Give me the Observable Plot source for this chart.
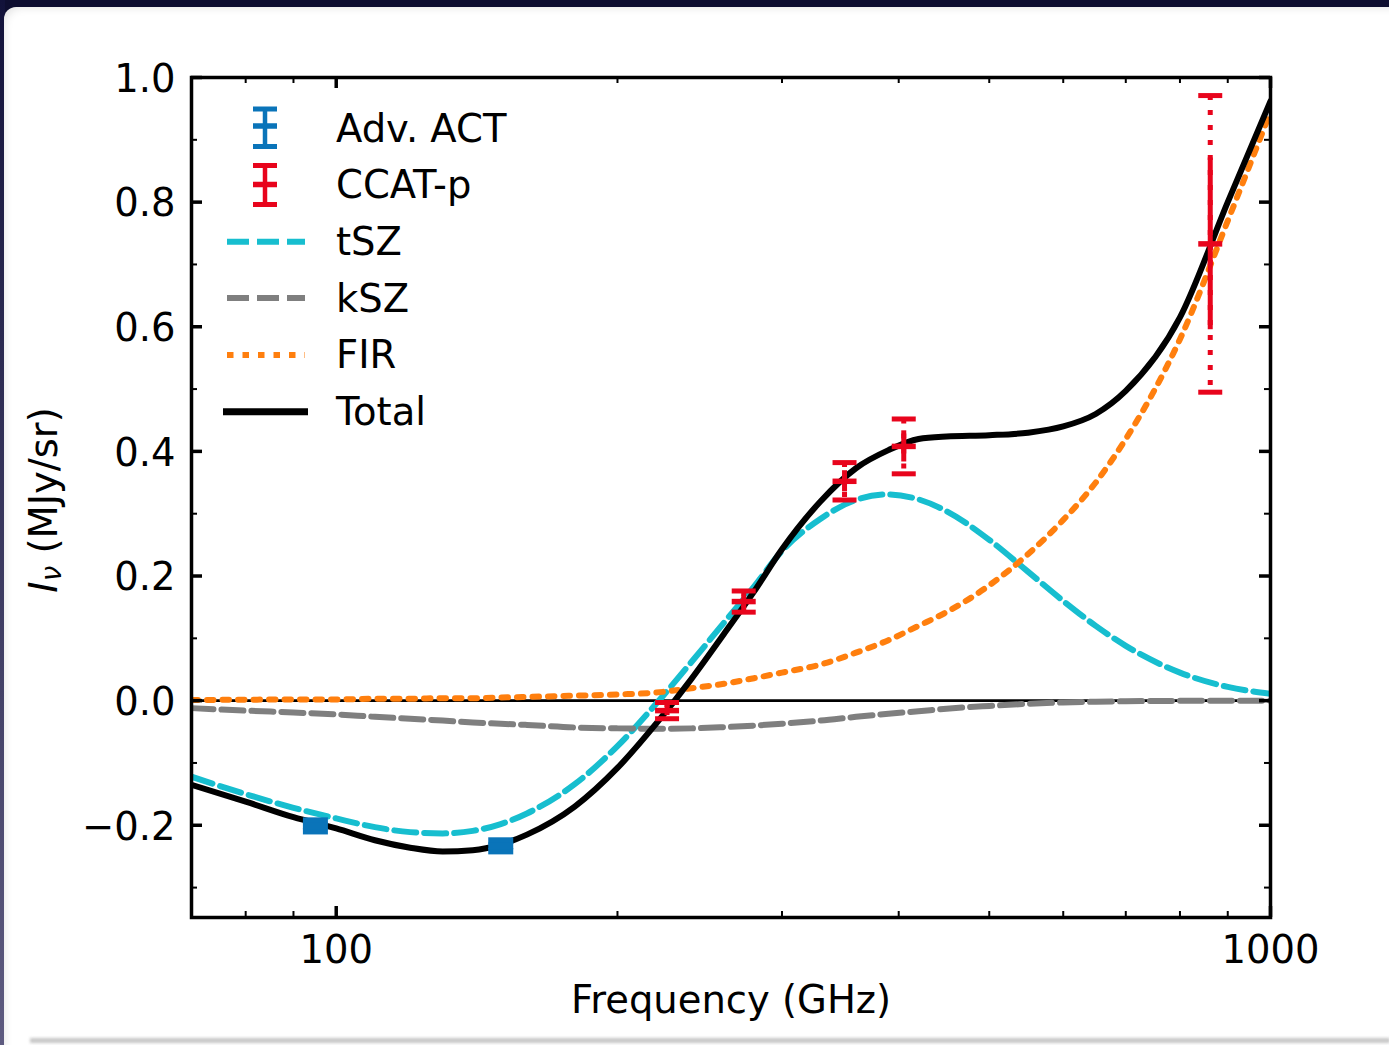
<!DOCTYPE html>
<html><head><meta charset="utf-8">
<script src="https://cdn.jsdelivr.net/npm/d3@7"></script>
<script src="https://cdn.jsdelivr.net/npm/@observablehq/plot@0.6"></script>
<style>
html,body{margin:0;padding:0;background:#0e0e30;overflow:hidden}
#page{position:relative;width:1389px;height:1045px;overflow:hidden;background:#0e0e30}
#leftband{position:absolute;left:0;top:0;width:5px;height:1045px;background:linear-gradient(#12123a,#5e5b80)}
#card{position:absolute;left:4px;top:7px;width:1400px;height:1050px;background:#fff;border-radius:12px 0 0 0;box-shadow:inset 6px 6px 10px -6px rgba(0,0,0,0.12)}
#smudge{position:absolute;left:30px;top:1038px;width:1360px;height:5px;background:#9a9a9a;filter:blur(1.5px);opacity:.55}
#chart,#overlay{position:absolute;left:0;top:0}
</style></head>
<body><div id="page"><div id="leftband"></div><div id="card"></div><div id="smudge"></div><div id="chart"></div><svg id="overlay" width="1389" height="1045"></svg></div>
<script>
// ---- data ----
const freq  = [70,80,90,100,110,120,130,140,150,160,180,200,220,240,260,280,300,330,360,390,420,450,500,550,600,650,700,800,900,1000];
const tSZ   = [-0.122,-0.150,-0.172,-0.189,-0.203,-0.211,-0.213,-0.209,-0.198,-0.181,-0.134,-0.073,-0.005,0.062,0.125,0.183,0.240,0.292,0.322,0.331,0.323,0.304,0.258,0.207,0.160,0.120,0.088,0.045,0.022,0.011];
const kSZ   = [-0.012,-0.016,-0.019,-0.022,-0.026,-0.029,-0.032,-0.035,-0.037,-0.039,-0.043,-0.0445,-0.045,-0.0445,-0.0425,-0.040,-0.037,-0.032,-0.026,-0.021,-0.017,-0.013,-0.0085,-0.005,-0.003,-0.0017,-0.001,-0.0003,-0.0001,0.0];
const FIR   = [0.001,0.0015,0.002,0.002,0.003,0.003,0.004,0.004,0.005,0.006,0.008,0.010,0.013,0.020,0.027,0.036,0.045,0.058,0.077,0.097,0.120,0.142,0.185,0.235,0.290,0.350,0.420,0.580,0.770,0.945];
const total = [-0.135,-0.162,-0.187,-0.205,-0.224,-0.236,-0.242,-0.240,-0.231,-0.215,-0.170,-0.108,-0.037,0.035,0.107,0.175,0.243,0.320,0.373,0.402,0.420,0.424,0.426,0.430,0.440,0.460,0.497,0.615,0.800,0.962];

const actFreq = [95,150];
const actVal  = [-0.201,-0.233];
const actErr  = [0.0085,0.0085];

const ccatFreq     = [226,273,350,405,862];
const ccatVal      = [-0.016,0.159,0.352,0.408,0.733];
const ccatErrOuter = [0.013,0.017,0.030,0.044,0.238];
const ccatErrInner = [0.008,0.010,0.017,0.025,0.138];

const xMajor = [100,1000];
const xMajorLabels = ["100","1000"];
const xMinor = [80,90,200,300,400,500,600,700,800,900];
const yMajor = [-0.2,0,0.2,0.4,0.6,0.8,1.0];
const yMajorLabels = ["\u22120.2","0.0","0.2","0.4","0.6","0.8","1.0"];
const yMinor = [-0.3,-0.1,0.1,0.3,0.5,0.7,0.9];

const legendLabels = ["Adv. ACT","CCAT-p","tSZ","kSZ","FIR","Total"];
const xLabel = "Frequency (GHz)";

// ---- styles ----
const FONT = "DejaVu Sans";
const FS = 38.5;
const C_TSZ = "#17becf", C_KSZ = "#7f7f7f", C_FIR = "#ff7f0e", C_TOT = "#000000";
const C_ACT = "#0a74b9", C_CCAT = "#e8041c";
const LW = 6;

const W = 1389, H = 1045, ML = 191, MR = 119, MT = 77, MB = 128;
const FW = W - ML - MR, FH = H - MT - MB;

const series = (arr) => freq.map((f, i) => ({f, v: arr[i]}));
const act = actFreq.map((f, i) => ({f, v: actVal[i], eo: actErr[i], ei: actErr[i]}));
const ccat = ccatFreq.map((f, i) => ({f, v: ccatVal[i], eo: ccatErrOuter[i], ei: ccatErrInner[i]}));

const capSym = (w, h) => ({draw(ctx) { ctx.rect(-w / 2, -h / 2, w, h); }});

function errorMarks(data, color, dotted, capH, midH, capW) {
  const cap = capSym(capW, capH), mid = capSym(capW, midH);
  const m = [];
  if (dotted) {
    m.push(Plot.ruleX(data, {x: "f", y1: d => d.v + d.eo, y2: d => d.v - d.eo, stroke: color, strokeWidth: 5, strokeDasharray: "5,10"}));
    m.push(Plot.ruleX(data, {x: "f", y1: d => d.v - d.ei, y2: d => d.v + d.ei, stroke: color, strokeWidth: 5}));
  } else {
    m.push(Plot.ruleX(data, {x: "f", y1: d => d.v - d.eo, y2: d => d.v + d.eo, stroke: color, strokeWidth: 5}));
  }
  m.push(Plot.dot(data, {x: "f", y: d => d.v + d.eo, symbol: cap, fill: color, stroke: "none"}));
  m.push(Plot.dot(data, {x: "f", y: d => d.v - d.eo, symbol: cap, fill: color, stroke: "none"}));
  m.push(Plot.dot(data, {x: "f", y: "v", symbol: mid, fill: color, stroke: "none"}));
  return m;
}

const majL = 11, minL = 6, majW = 3.5, minW = 2;

const chart = Plot.plot({
  width: W, height: H,
  marginLeft: ML, marginRight: MR, marginTop: MT, marginBottom: MB,
  x: {type: "log", domain: [70, 1000], axis: null},
  y: {domain: [-0.348, 1.0], axis: null},
  style: {background: "transparent", fontFamily: FONT, overflow: "visible", color: "black"},
  marks: [
    Plot.ruleY([0], {stroke: "black", strokeWidth: 2.8}),
    Plot.line(series(tSZ), {x: "f", y: "v", stroke: C_TSZ, strokeWidth: LW, strokeDasharray: "22,8", curve: "monotone-x", clip: true}),
    Plot.line(series(kSZ), {x: "f", y: "v", stroke: C_KSZ, strokeWidth: LW, strokeDasharray: "22,8", curve: "monotone-x", clip: true}),
    Plot.line(series(FIR), {x: "f", y: "v", stroke: C_FIR, strokeWidth: LW, strokeDasharray: "6.5,9", curve: "monotone-x", clip: true}),
    Plot.line(series(total), {x: "f", y: "v", stroke: C_TOT, strokeWidth: LW, curve: "monotone-x", clip: true}),
    ...errorMarks(act, C_ACT, false, 6.5, 7, 25),
    ...errorMarks(ccat, C_CCAT, true, 5, 5.5, 24),
    // inward ticks, all four sides
    Plot.ruleX(xMajor, {x: d => d, insetTop: FH - majL, stroke: "black", strokeWidth: majW}),
    Plot.ruleX(xMajor, {x: d => d, insetBottom: FH - majL, stroke: "black", strokeWidth: majW}),
    Plot.ruleX(xMinor, {x: d => d, insetTop: FH - minL, stroke: "black", strokeWidth: minW}),
    Plot.ruleX(xMinor, {x: d => d, insetBottom: FH - minL, stroke: "black", strokeWidth: minW}),
    Plot.ruleY(yMajor, {y: d => d, insetRight: FW - majL, stroke: "black", strokeWidth: majW}),
    Plot.ruleY(yMajor, {y: d => d, insetLeft: FW - majL, stroke: "black", strokeWidth: majW}),
    Plot.ruleY(yMinor, {y: d => d, insetRight: FW - minL, stroke: "black", strokeWidth: minW}),
    Plot.ruleY(yMinor, {y: d => d, insetLeft: FW - minL, stroke: "black", strokeWidth: minW}),
    // tick labels
    Plot.text(xMajor, {x: d => d, text: (d, i) => xMajorLabels[i], frameAnchor: "bottom", dy: 45, lineAnchor: "bottom", fontSize: FS, fill: "black"}),
    Plot.text(yMajor, {y: d => d, text: (d, i) => yMajorLabels[i], frameAnchor: "left", dx: -16, dy: 2, textAnchor: "end", lineAnchor: "middle", fontSize: FS, fill: "black"}),
    Plot.text([xLabel], {text: d => d, frameAnchor: "bottom", dy: 95, lineAnchor: "bottom", fontSize: FS, fill: "black"}),
    Plot.frame({stroke: "black", strokeWidth: 3.5})
  ]
});
document.getElementById("chart").appendChild(chart);

// ---- overlay: y label and legend ----
const ov = d3.select("#overlay").style("font-family", FONT);
const yl = ov.append("text")
  .attr("transform", "translate(57,500) rotate(-90)")
  .attr("text-anchor", "middle")
  .attr("font-size", FS)
  .attr("fill", "black");
yl.append("tspan").attr("font-style", "italic").text("I");
yl.append("tspan").attr("font-style", "italic").attr("font-size", FS * 0.72).attr("dy", 4).text("\u03bd");
yl.append("tspan").attr("dy", -4).text(" (MJy/sr)");

const baselines = [142, 198, 255, 312, 368, 425];
const lg = ov.append("g");
legendLabels.forEach((t, i) => {
  lg.append("text").attr("x", 336).attr("y", baselines[i]).attr("font-size", FS).attr("fill", "black").text(t);
});
// errorbar handles
function ebHandle(cx, top, midY, bot, color) {
  lg.append("line").attr("x1", cx).attr("x2", cx).attr("y1", top).attr("y2", bot).attr("stroke", color).attr("stroke-width", 4.5);
  [top, bot].forEach(y => lg.append("rect").attr("x", cx - 12).attr("y", y - 2.5).attr("width", 24).attr("height", 5).attr("fill", color));
  lg.append("rect").attr("x", cx - 12).attr("y", midY - 2.75).attr("width", 24).attr("height", 5.5).attr("fill", color);
}
ebHandle(265, 109, 126, 146.5, C_ACT);
ebHandle(265, 165.5, 184.5, 204.5, C_CCAT);
const lineHandle = (y, color, dash, w, x1 = 227, x2 = 305) =>
  lg.append("line").attr("x1", x1).attr("x2", x2).attr("y1", y).attr("y2", y)
    .attr("stroke", color).attr("stroke-width", w).attr("stroke-dasharray", dash);
lineHandle(241.7, C_TSZ, "22,8", LW);
lineHandle(298, C_KSZ, "22,8", LW);
lineHandle(355, C_FIR, "6.5,9", LW);
lineHandle(411.7, C_TOT, null, 7, 223, 308);
</script></body></html>
